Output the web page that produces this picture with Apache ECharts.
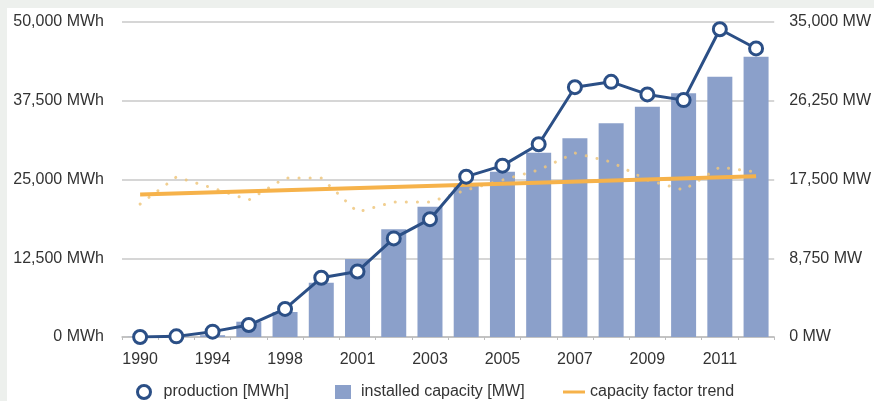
<!DOCTYPE html>
<html>
<head>
<meta charset="utf-8">
<script src="https://cdn.jsdelivr.net/npm/echarts@6/dist/echarts.min.js"></script>
<style>
  html, body { margin:0; padding:0; background:#edf0ed; }
  #bg { position:absolute; left:7px; top:8px; width:867px; height:393px; background:#ffffff; }
  #chart { position:absolute; left:0; top:0; width:874px; height:401px; }
</style>
</head>
<body>
<div id="bg"></div>
<div id="chart"></div>
<script>
const categories = ['1990','1992','1994','1996','1998','2000','2001','2002','2003','2004','2005','2006','2007','2008','2009','2010','2011','2012'];
const production = [0, 100, 850, 1900, 4450, 9400, 10400, 15650, 18700, 25450, 27200, 30600, 39650, 40500, 38500, 37600, 48850, 45800];
const capacity = [20, 60, 200, 1700, 2780, 6030, 8670, 11970, 14480, 16900, 18370, 20480, 22070, 23740, 25590, 27080, 28920, 31140];
const capacityFactor = [21100, 25400, 23650, 21750, 25240, 25240, 19840, 21430, 21430, 23330, 24920, 26510, 29210, 27780, 24920, 23330, 26980, 26190];
const trendYears = ['1990', '2012'];
const trendValues = [22600, 25500];
const leftTicks = [0, 12500, 25000, 37500, 50000];
const rightTicks = [0, 8750, 17500, 26250, 35000];

const FONT = "'Liberation Sans', Arial, Helvetica, sans-serif";
const chart = echarts.init(document.getElementById('chart'), null, {renderer: 'canvas'});
const fmt = v => Number(v).toLocaleString('en-US');

chart.setOption({
  backgroundColor: 'transparent',
  animation: false,
  textStyle: { fontFamily: FONT },
  grid: { left: 122, right: 99, top: 22, bottom: 64, containLabel: false },
  legend: [
    {
      left: 131, top: 379, itemWidth: 13, itemHeight: 13,
      data: [{ name: 'production [MWh]', icon: 'circle',
               itemStyle: { color: '#ffffff', borderColor: '#2b4f86', borderWidth: 3 } }],
      textStyle: { fontFamily: FONT, fontSize: 16, color: '#333', padding: [0, 0, 0, 8] }
    },
    {
      left: 330, top: 379, itemWidth: 16, itemHeight: 14,
      data: [{ name: 'installed capacity [MW]', icon: 'rect' }],
      textStyle: { fontFamily: FONT, fontSize: 16, color: '#333', padding: [0, 0, 0, 5] }
    },
    {
      left: 558, top: 379, itemWidth: 22, itemHeight: 3,
      data: [{ name: 'capacity factor trend', icon: 'rect' }],
      textStyle: { fontFamily: FONT, fontSize: 16, color: '#333', padding: [0, 0, 0, 0] }
    }
  ],
  xAxis: {
    type: 'category',
    data: categories,
    boundaryGap: true,
    axisLine: { show: true, lineStyle: { color: '#bdbdbd', width: 1.5 } },
    axisTick: { show: true, alignWithLabel: false, interval: 0, length: 3, lineStyle: { color: '#bdbdbd' } },
    axisLabel: { interval: 1, margin: 15, fontSize: 16, color: '#333', fontFamily: FONT }
  },
  yAxis: [
    {
      type: 'value', min: leftTicks[0], max: leftTicks[leftTicks.length - 1],
      interval: leftTicks[1] - leftTicks[0],
      axisLine: { show: false }, axisTick: { show: false },
      splitLine: { show: true, lineStyle: { color: '#c8c8c8', width: 1.5 } },
      axisLabel: { margin: 18, fontSize: 16, color: '#333', fontFamily: FONT,
                   formatter: v => fmt(v) + ' MWh' }
    },
    {
      type: 'value', min: rightTicks[0], max: rightTicks[rightTicks.length - 1],
      interval: rightTicks[1] - rightTicks[0],
      axisLine: { show: false }, axisTick: { show: false },
      splitLine: { show: false },
      axisLabel: { margin: 15, fontSize: 16, color: '#333', fontFamily: FONT,
                   formatter: v => fmt(v) + ' MW' }
    }
  ],
  series: [
    {
      name: 'installed capacity [MW]', type: 'bar', yAxisIndex: 1,
      data: capacity, barWidth: 25,
      itemStyle: { color: '#8ba0ca' }, z: 2
    },
    {
      name: 'capacity factor', type: 'line', yAxisIndex: 0,
      data: capacityFactor, symbol: 'none', smooth: false,
      lineStyle: { color: '#eec77e', width: 3, type: [0.1, 11], cap: 'round', opacity: 0.85 },
      z: 3
    },
    {
      name: 'capacity factor trend', type: 'line', yAxisIndex: 0,
      data: trendYears.map((y, i) => [y, trendValues[i]]),
      symbol: 'none',
      lineStyle: { color: '#f6b24a', width: 4 },
      itemStyle: { color: '#f6b24a' },
      z: 4
    },
    {
      name: 'production [MWh]', type: 'line', yAxisIndex: 0,
      data: production, symbol: 'circle', symbolSize: 13,
      lineStyle: { color: '#2b4f86', width: 3 },
      itemStyle: { color: '#ffffff', borderColor: '#2b4f86', borderWidth: 3 },
      z: 5
    }
  ]
});
</script>
</body>
</html>
